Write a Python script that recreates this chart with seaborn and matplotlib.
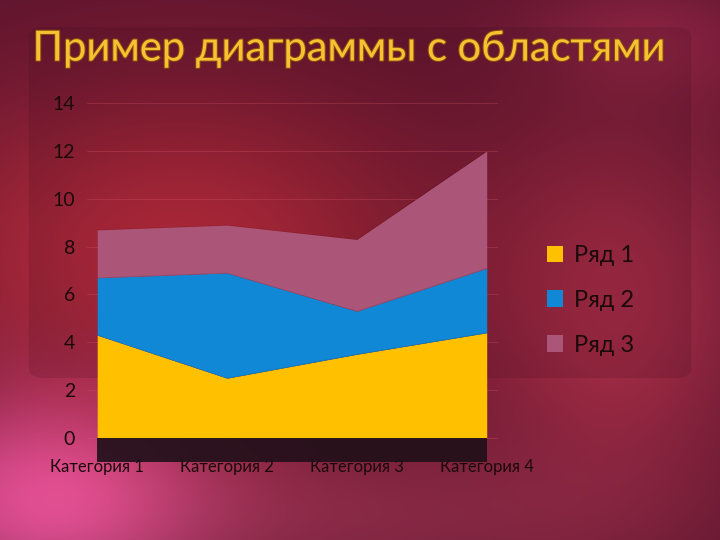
import numpy as np
import matplotlib
matplotlib.use("Agg")
import matplotlib.pyplot as plt
import matplotlib.patheffects as pe
from matplotlib.patches import Rectangle, FancyBboxPatch
import seaborn as sns

categories = ["Категория 1", "Категория 2", "Категория 3", "Категория 4"]
series_names = ["Ряд 1", "Ряд 2", "Ряд 3"]
row1 = [4.3, 2.5, 3.5, 4.4]
row2 = [2.4, 4.4, 1.8, 2.7]
row3 = [2.0, 2.0, 3.0, 4.9]
colors = ["#ffc000", "#1088d5", "#ab5578"]
y_ticks = [0, 2, 4, 6, 8, 10, 12, 14]

sns.set_theme(style="white")
plt.rcParams["font.family"] = ["Lato", "DejaVu Sans"]

fig = plt.figure(figsize=(7.2, 5.4), dpi=100)

# background: dark crimson slide with soft light spots
bg = fig.add_axes([0, 0, 1, 1])
h, w = 540, 720
yy, xx = np.mgrid[0:h, 0:w]
base = np.array([0.36, 0.08, 0.18])
img = np.ones((h, w, 3)) * base
def blob(cx, cy, sx, sy, col, amt):
    g = np.exp(-(((xx - cx) / sx) ** 2 + ((yy - cy) / sy) ** 2))
    return g[..., None] * (np.array(col) - base) * amt
img += blob(180, 250, 260, 170, [0.76, 0.18, 0.24], 0.95)
img += blob(40, 500, 160, 110, [0.85, 0.30, 0.58], 0.9)
img += blob(620, 300, 140, 200, [0.72, 0.20, 0.30], 0.75)
img += blob(350, 520, 300, 80, [0.60, 0.20, 0.32], 0.6)
img += blob(650, 40, 120, 60, [0.62, 0.16, 0.30], 0.5)
img = np.clip(img, 0, 1)
bg.imshow(img, aspect="auto", extent=[0, 1, 0, 1], origin="upper")
bg.add_patch(FancyBboxPatch((0.04, 0.30), 0.92, 0.65,
                            boxstyle="round,pad=0,rounding_size=0.02",
                            transform=bg.transAxes, color="#30081a",
                            alpha=0.15, lw=0))
bg.set_axis_off()

fig.text(0.045, 0.91, "Пример диаграммы с областями", fontsize=30,
         color="#f6c232", va="center",
         path_effects=[pe.withStroke(linewidth=1.5, foreground="#8a4a10")])

ax = fig.add_axes([0.135, 0.189, 0.541, 0.62])
ax.patch.set_alpha(0)
x = np.arange(len(categories))
ax.stackplot(x, row1, row2, row3, colors=colors, labels=series_names, lw=0)
stack = np.cumsum([row1, row2, row3], axis=0)
for top in stack:
    sns.lineplot(x=x, y=top, ax=ax, color="#000000", lw=0.3, alpha=0.15,
                 legend=False)

ax.set_xlim(0, 3)
ax.set_ylim(0, 14)
ax.set_yticks(y_ticks)
ax.set_yticklabels([str(t) for t in y_ticks], fontsize=14, color="#1a0a0a")
ax.set_xticks(x)
ax.set_xticklabels(categories, fontsize=12, color="#1a0a0a")
ax.tick_params(axis="x", pad=15, length=0)
ax.tick_params(axis="y", pad=16, length=0)
for t in y_ticks:
    ax.plot([-0.08, 3.08], [t, t], color="#e06070", lw=0.6, alpha=0.3,
            clip_on=False, zorder=0)
for s in ax.spines.values():
    s.set_visible(False)
ax.grid(False)

# dark floor under the areas
ax.add_patch(Rectangle((0, -0.072), 1, 0.072, transform=ax.transAxes,
                       color="#22101a", alpha=0.92, clip_on=False, lw=0))

leg = fig.legend(handles=ax.get_legend_handles_labels()[0],
                 labels=series_names, loc="upper left",
                 bbox_to_anchor=(0.73, 0.585), frameon=False, fontsize=17,
                 handlelength=0.7, handleheight=0.7, handletextpad=0.45,
                 labelspacing=1.0, labelcolor="#1a0a0a")

fig.savefig("out.png", dpi=100)
